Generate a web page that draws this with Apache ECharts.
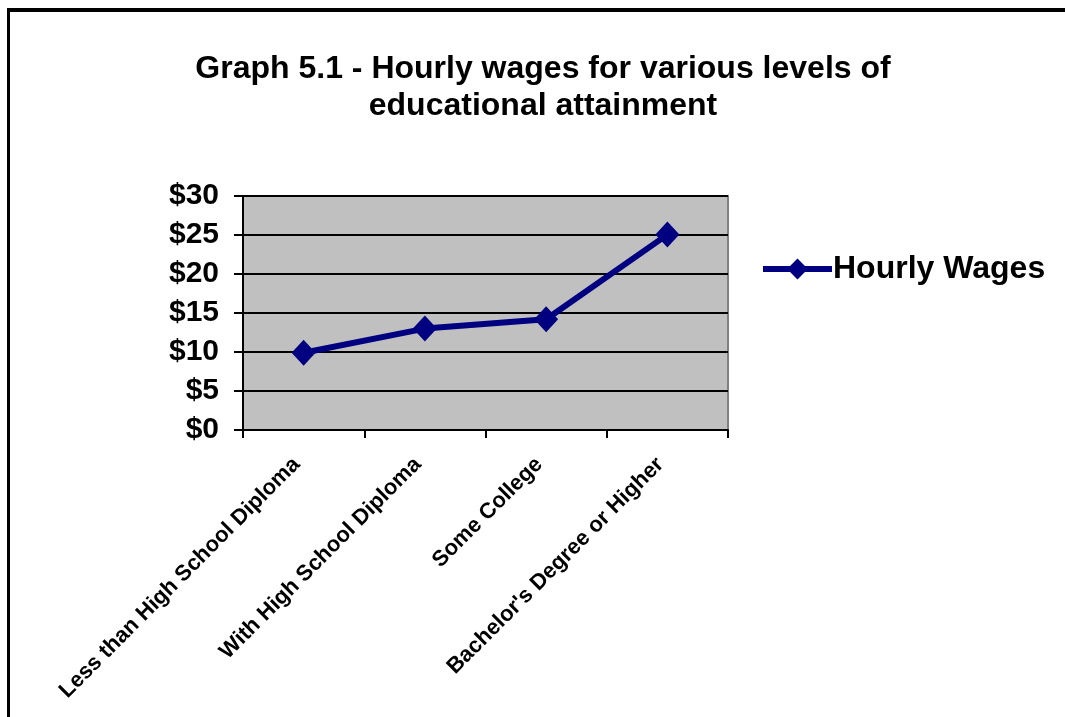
<!DOCTYPE html>
<html lang="en">
<head>
    <meta charset="UTF-8">
    <title>Graph 5.1</title>
    <script type="text/javascript" src="https://cdn.jsdelivr.net/npm/echarts@6/dist/echarts.min.js"></script>
    <style>
        html, body { margin: 0; padding: 0; background: #fff; }
        #frame {
            position: absolute; left: 7px; top: 8px; width: 1070px; height: 720px;
            border-top: 4px solid #000; border-left: 3px solid #000;
        }
        #chart { position: absolute; left: 0; top: 0; width: 1065px; height: 717px; }
    </style>
</head>
<body>
<div id="frame"></div>
<div id="chart"></div>
<script>
    // data
    var categories = ['Less than High School Diploma', 'With High School Diploma', 'Some College', "Bachelor's Degree or Higher"];
    var wages = [9.9, 13.0, 14.2, 25.05];
    var seriesName = 'Hourly Wages';

    var chart = echarts.init(document.getElementById('chart'));

    var font = 'Liberation Sans, Arial, sans-serif';

    var option = {
        backgroundColor: 'transparent',
        animation: false,
        title: {
            text: 'Graph 5.1 - Hourly wages for various levels of\neducational attainment',
            left: 538,
            top: 46,
            textAlign: 'center',
            textStyle: {
                fontFamily: font,
                fontWeight: 'bold',
                fontSize: 32,
                lineHeight: 37,
                color: '#000'
            }
        },
        legend: {
            left: 755,
            top: 248,
            itemWidth: 69,
            itemHeight: 26,
            itemGap: 0,
            lineStyle: { width: 6 },
            textStyle: {
                fontFamily: font,
                fontWeight: 'bold',
                fontSize: 32,
                color: '#000',
                padding: [0, 0, 0, -4]
            },
            data: [seriesName]
        },
        grid: {
            left: 243,
            top: 196,
            right: 337,
            bottom: 287,
            show: true,
            backgroundColor: '#c0c0c0',
            borderColor: '#808080',
            borderWidth: 2
        },
        xAxis: {
            type: 'category',
            data: categories,
            boundaryGap: true,
            axisLine: { lineStyle: { color: '#000', width: 2 } },
            axisTick: { show: true, length: 8, lineStyle: { color: '#000', width: 2 } },
            axisLabel: {
                interval: 0,
                rotate: 45,
                margin: 24,
                padding: [0, 10, 0, 0],
                fontFamily: font,
                fontWeight: 'bold',
                fontSize: 22,
                color: '#000'
            }
        },
        yAxis: {
            type: 'value',
            min: 0,
            max: 30,
            interval: 5,
            axisLine: { show: true, lineStyle: { color: '#000', width: 2 } },
            axisTick: { show: true, length: 9, lineStyle: { color: '#000', width: 2 } },
            splitLine: { show: true, lineStyle: { color: '#000', width: 2 } },
            axisLabel: {
                margin: 24,
                fontFamily: font,
                fontWeight: 'bold',
                fontSize: 30,
                color: '#000',
                formatter: function (v) { return '$' + v; }
            }
        },
        series: [{
            name: seriesName,
            type: 'line',
            data: wages,
            symbol: 'diamond',
            symbolSize: [24, 26],
            itemStyle: { color: '#000080' },
            lineStyle: { color: '#000080', width: 6 }
        }]
    };

    chart.setOption(option);
</script>
</body>
</html>
